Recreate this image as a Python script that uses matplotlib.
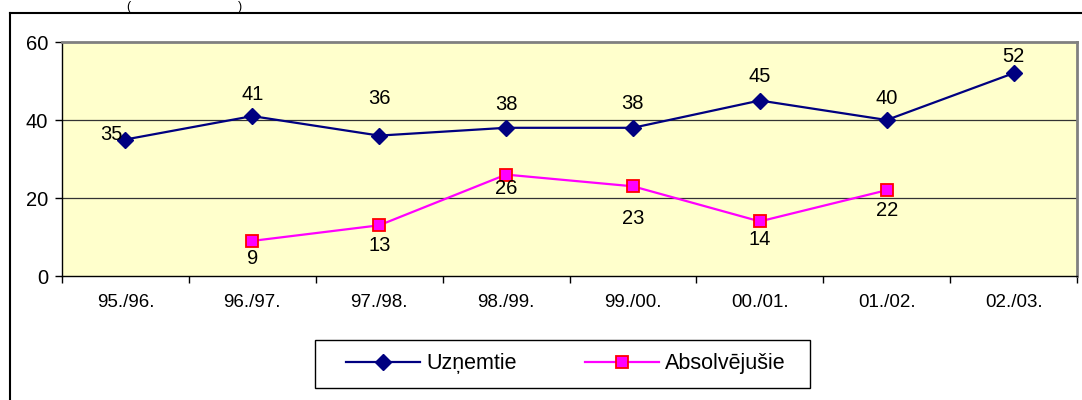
import matplotlib
matplotlib.use("Agg")
import matplotlib.pyplot as plt
import numpy as np
from matplotlib.lines import Line2D
from matplotlib.patches import Rectangle

plt.rcParams['font.family'] = ['Liberation Sans', 'DejaVu Sans']

categories = ["95./96.", "96./97.", "97./98.", "98./99.", "99./00.", "00./01.", "01./02.", "02./03."]
uznemtie = [35, 41, 36, 38, 38, 45, 40, 52]
absolvejusie = [np.nan, 9, 13, 26, 23, 14, 22, np.nan]
yticks = [0, 20, 40, 60]

# label offsets in pixels (dx, dy)
uz_off = [(-3, 5), (0, 22), (0, 37), (0, 23), (0, 24), (0, 24), (0, 22), (0, 17)]
ab_off = [(0, 0), (0, -18), (0, -20), (0, -14), (0, -32), (0, -18), (0, -20), (0, 0)]

W, H = 1082, 400
fig = plt.figure(figsize=(W / 100, H / 100), dpi=100)
ax = fig.add_axes([62 / W, 1 - 276 / H, 1015 / W, 234 / H])
ax.set_facecolor('#FFFFCC')

x = np.arange(len(categories))
ax.plot(x, uznemtie, color='#000080', lw=1.6, marker='D', ms=8,
        mfc='#000080', mec='#000080', label='Uzņemtie', zorder=3)
ax.plot(x, absolvejusie, color='#FF00FF', lw=1.6, marker='s', ms=9,
        mfc='#FF00FF', mec='#FF0000', mew=1.3, label='Absolvējušie', zorder=3)

for i, v in enumerate(uznemtie):
    dx, dy = uz_off[i]
    ax.annotate(str(v), (x[i], v), xytext=(dx, dy), textcoords='offset pixels',
                ha='right' if dx < 0 else 'center', va='center', fontsize=14.5, zorder=4)
for i, v in enumerate(absolvejusie):
    if np.isnan(v):
        continue
    dx, dy = ab_off[i]
    ax.annotate(str(int(v)), (x[i], v), xytext=(dx, dy), textcoords='offset pixels',
                ha='center', va='center', fontsize=14.5, zorder=4)

ax.set_xlim(-0.5, len(categories) - 0.5)
ax.set_ylim(0, 60)
ax.set_yticks(yticks)
ax.set_yticklabels([str(t) for t in yticks], fontsize=14.5)
ax.set_xticks(x)
ax.set_xticklabels(categories, fontsize=13.5)
ax.set_xticks(np.arange(-0.5, len(categories)), minor=True)
ax.tick_params(axis='x', which='major', length=0, pad=13)
ax.tick_params(axis='x', which='minor', length=5, width=1, color='black', direction='out')
ax.tick_params(axis='y', length=5, width=1, color='black', direction='out', pad=5)

for yv in [20, 40]:
    ax.axhline(yv, color='#333333', lw=0.9, zorder=1)

ax.spines['left'].set_color('black')
ax.spines['bottom'].set_color('black')
ax.spines['left'].set_linewidth(1)
ax.spines['bottom'].set_linewidth(1)
ax.spines['top'].set_color('#808080')
ax.spines['right'].set_color('#808080')
ax.spines['top'].set_linewidth(2)
ax.spines['right'].set_linewidth(2)

# outer chart frame (partly beyond the image)
fig.add_artist(Line2D([10 / W, 10 / W], [0, 1 - 13 / H], color='black', lw=1.5, transform=fig.transFigure))
fig.add_artist(Line2D([10 / W, 1], [1 - 13 / H, 1 - 13 / H], color='black', lw=1.5, transform=fig.transFigure))

# title remnants
fig.text(128 / W, 1 - 1 / H, '(', fontsize=9, va='top', ha='center')
fig.text(240 / W, 1 - 1 / H, ')', fontsize=9, va='top', ha='center')

# legend frame
fig.add_artist(Rectangle((315 / W, 1 - 388 / H), 495 / W, 48 / H, transform=fig.transFigure,
                         facecolor='white', edgecolor='black', lw=1, zorder=1))
leg = fig.legend(loc='center', bbox_to_anchor=(566 / W, 1 - 364 / H), ncol=2,
                 fontsize=15.5, frameon=False,
                 handlelength=3.4, columnspacing=3.2, borderpad=0.3, handletextpad=0.3)
leg.set_zorder(5)

fig.savefig('out.png', dpi=100)
